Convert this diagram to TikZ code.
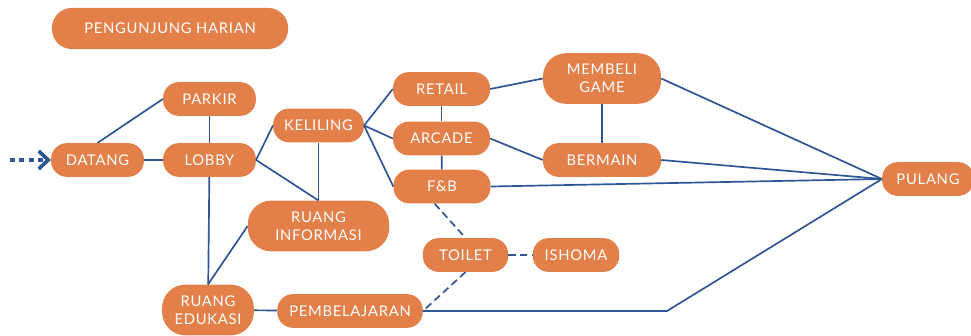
\documentclass[tikz,border=0pt]{standalone}
\usepackage{fontspec}
\setmainfont{Lato}[LetterSpace=5]
\usetikzlibrary{positioning,calc,arrows.meta}
\definecolor{oranye}{HTML}{E3804A}
\definecolor{biru}{HTML}{2E5594}
\tikzset{
  tahap/.style={fill=oranye, text=white, rounded corners=15pt, minimum height=32pt,
    inner sep=2pt, align=center, font=\fontsize{14}{17}\selectfont},
  tahapbesar/.style={tahap, rounded corners=22pt, minimum height=48pt},
  jalur/.style={biru, line width=1.6pt},
  jalurputus/.style={jalur, dash pattern=on 7pt off 4pt},
}

\begin{document}
\begin{tikzpicture}
      \useasboundingbox (0,0) rectangle (32.367,-11.167);
      % Judul
      \node[tahap, minimum width=224pt, minimum height=39pt, rounded corners=19pt] (judul) at (5.667,-0.95) {PENGUNJUNG HARIAN};
      % Masuk
      \node[tahap, minimum width=88pt] (datang) at (3.25,-5.333) {DATANG};
      \node[tahap, minimum width=88pt] (parkir) at (6.983,-3.3) {PARKIR};
      \node[tahap, minimum width=88pt] (lobby) at (6.983,-5.333) {LOBBY};
      \node[tahap, minimum width=86pt] (keliling) at (10.617,-4.183) {KELILING};
      \node[tahapbesar, minimum width=134pt] (info) at (10.617,-7.533) {RUANG\\INFORMASI};
      \node[tahapbesar, minimum width=87pt] (edukasi) at (6.933,-10.333) {RUANG\\EDUKASI};
      \node[tahap, minimum width=138pt] (belajar) at (11.667,-10.367) {PEMBELAJARAN};
      % Area tengah
      \node[tahap, minimum width=92pt] (retail) at (14.717,-2.967) {RETAIL};
      \node[tahap, minimum width=92pt] (arcade) at (14.717,-4.617) {ARCADE};
      \node[tahap, minimum width=92pt] (fnb) at (14.733,-6.217) {F\&B};
      \node[tahapbesar, minimum width=112pt] (membeli) at (20.067,-2.617) {MEMBELI\\GAME};
      \node[tahap, minimum width=112pt] (bermain) at (20.067,-5.333) {BERMAIN};
      \node[tahap, minimum width=81pt] (toilet) at (15.517,-8.5) {TOILET};
      \node[tahap, minimum width=82pt] (ishoma) at (19.2,-8.5) {ISHOMA};
      \node[tahap, minimum width=87pt] (pulang) at (30.933,-5.967) {PULANG};
      \coordinate (mulai) at (0.333,-5.333);
      \coordinate (belok) at (22.233,-10.367);

      % Panah masuk
      \draw[biru, line width=4.5pt, dash pattern=on 4.5pt off 4.5pt, -{Straight Barb[line width=3.5pt, length=9pt, width=17pt]}] (mulai) -- (datang.west);
      % Garis
      \draw[jalur] (datang) -- (lobby);
      \draw[jalur] (datang.north) -- (parkir.west);
      \draw[jalur] (parkir) -- (lobby);
      \draw[jalur] (lobby.east) -- (keliling.west);
      \draw[jalur] (lobby.east) -- (info.north);
      \draw[jalur] (keliling) -- (info);
      \draw[jalur] (lobby) -- (edukasi);
      \draw[jalur] (edukasi.north) -- (info.west);
      \draw[jalur] (edukasi) -- (belajar);
      \draw[jalur] (keliling.east) -- (retail.west);
      \draw[jalur] (keliling.east) -- (arcade.west);
      \draw[jalur] (keliling.east) -- (fnb.west);
      \draw[jalur] (retail) -- (arcade);
      \draw[jalur] (arcade) -- (fnb);
      \draw[jalur] (retail.east) -- (membeli.west);
      \draw[jalur] (arcade.east) -- (bermain.west);
      \draw[jalur] (membeli) -- (bermain);
      \draw[jalur] (membeli.east) -- (pulang.west);
      \draw[jalur] (bermain.east) -- (pulang.west);
      \draw[jalur] (fnb.east) -- (pulang.west);
      \draw[jalur] (belajar.east) -- (belok) -- (pulang.west);
      \draw[jalurputus] ([xshift=-7pt]fnb.south) -- (toilet.north);
      \draw[jalurputus] (toilet) -- (ishoma);
      \draw[jalurputus] (toilet.south) -- (belajar.east);
\end{tikzpicture}
\end{document}
